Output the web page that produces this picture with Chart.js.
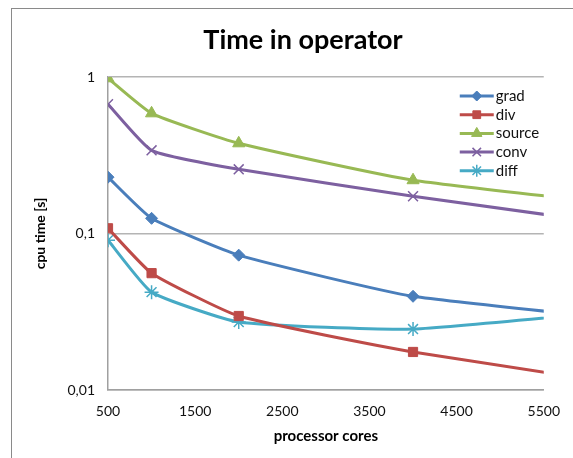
<!DOCTYPE html>
<html>
<head>
<meta charset="utf-8">
<script src="https://cdn.jsdelivr.net/npm/chart.js@4.4.0/dist/chart.umd.min.js"></script>
<style>
  html, body { margin: 0; padding: 0; background: #fff; }
  #wrap { position: relative; width: 573px; height: 458px; }
  #frame { position: absolute; left: 11px; top: 8px; width: 600px; height: 500px;
           border-left: 1.5px solid #8a8a8a; border-top: 1.5px solid #8a8a8a; pointer-events: none; }
</style>
</head>
<body>
<div id="wrap">
  <canvas id="chart" width="573" height="458"></canvas>
  <div id="frame"></div>
</div>
<script>
// values (last point lies past the axis end and is clipped)
var cores = [500, 1000, 2000, 4000, 8000];
var grad = [0.229, 0.125, 0.0727, 0.0397, 0.0230];
var div = [0.108, 0.0558, 0.0297, 0.0175, 0.0080];
var source = [0.981, 0.586, 0.377, 0.219, 0.122];
var conv = [0.670, 0.340, 0.257, 0.173, 0.0853];
var diff = [0.0906, 0.0422, 0.0272, 0.0245, 0.0393];
var yTicks = [0.01, 0.1, 1];

var names = ['grad', 'div', 'source', 'conv', 'diff'];
var colors = ['#4a7ebb', '#be4b48', '#98b954', '#7d60a0', '#46aac5'];
var markers = ['rectRot', 'rect', 'triangle', 'crossRot', 'star'];
var sizes = [6, 6.5, 7, 7, 7];
var series = [grad, div, source, conv, diff];

var FONT = 'Lato, "Open Sans", sans-serif';

function toPoints(vals) {
    return vals.map(function (v, i) { return { x: cores[i], y: v }; });
}

var datasets = series.map(function (vals, i) {
    var thin = markers[i] == 'crossRot' || markers[i] == 'star';
    return {
        label: names[i],
        data: toPoints(vals),
        borderColor: colors[i],
        backgroundColor: colors[i],
        borderWidth: 3,
        pointStyle: markers[i],
        pointRadius: sizes[i],
        pointBorderWidth: thin ? 1.5 : 1,
        pointBorderColor: colors[i],
        pointBackgroundColor: colors[i],
        tension: 0.15,
        fill: false
    };
});

// title sits off-centre in the original, so it is drawn here
var chartTitle = {
    id: 'chartTitle',
    afterDraw: function (chart) {
        var ctx = chart.ctx;
        ctx.save();
        ctx.fillStyle = '#000';
        ctx.font = 'bold 27px ' + FONT;
        ctx.textAlign = 'center';
        ctx.textBaseline = 'middle';
        ctx.fillText('Time in operator', 303, 40);
        ctx.restore();
    }
};

// legend drawn inside the plot, Excel style: line with the marker in the middle
var insideLegend = {
    id: 'insideLegend',
    afterDraw: function (chart) {
        var ctx = chart.ctx;
        var area = chart.chartArea;
        var x0 = area.right - 84, x1 = area.right - 50;
        ctx.save();
        chart.data.datasets.forEach(function (ds, i) {
            var y = area.top + 19 + i * 18.7;
            ctx.strokeStyle = ds.borderColor;
            ctx.lineWidth = 3;
            ctx.beginPath();
            ctx.moveTo(x0, y);
            ctx.lineTo(x1, y);
            ctx.stroke();
            ctx.fillStyle = ds.backgroundColor;
            ctx.lineWidth = ds.pointBorderWidth;
            Chart.helpers.drawPoint(ctx, {
                pointStyle: ds.pointStyle,
                radius: ds.pointRadius - 1,
                borderWidth: ds.pointBorderWidth,
                rotation: 0
            }, (x0 + x1) / 2, y);
            ctx.fillStyle = '#111';
            ctx.font = '15px ' + FONT;
            ctx.textAlign = 'left';
            ctx.textBaseline = 'middle';
            ctx.fillText(ds.label, x1 + 2, y);
        });
        ctx.restore();
    }
};

new Chart(document.getElementById('chart'), {
    type: 'line',
    data: { datasets: datasets },
    plugins: [chartTitle, insideLegend],
    options: {
        responsive: false,
        animation: false,
        layout: { padding: { left: 12, top: 77, right: 28, bottom: 0 } },
        plugins: {
            legend: { display: false },
            tooltip: { enabled: false },
            title: { display: false }
        },
        scales: {
            x: {
                type: 'linear',
                min: 500,
                max: 5500,
                ticks: {
                    stepSize: 1000,
                    color: '#111',
                    padding: 13,
                    font: { family: FONT, size: 14 },
                    callback: function (v) { return String(v); }
                },
                grid: { display: false, drawTicks: false },
                border: { display: true, color: '#a0a0a0', width: 1.5 },
                title: {
                    display: true,
                    text: 'processor cores',
                    color: '#000',
                    font: { family: FONT, size: 15, weight: 'bold' },
                    padding: { top: 4, bottom: 13 }
                },
                afterFit: function (scale) { scale.height = 68; }
            },
            y: {
                type: 'logarithmic',
                min: 0.01,
                max: 1,
                afterBuildTicks: function (scale) {
                    scale.ticks = yTicks.map(function (v) { return { value: v }; });
                },
                ticks: {
                    color: '#111',
                    padding: 13,
                    font: { family: FONT, size: 14 },
                    callback: function (v) { return String(v).replace('.', ','); }
                },
                grid: { color: '#b4b4b4', lineWidth: 1.5, drawTicks: false },
                border: { display: true, color: '#a0a0a0', width: 1.5 },
                title: {
                    display: true,
                    text: 'cpu time [s]',
                    color: '#000',
                    font: { family: FONT, size: 14, weight: 'bold' },
                    padding: { top: 20, bottom: 0 }
                },
                afterFit: function (scale) { scale.width = 96; }
            }
        }
    }
});
</script>
</body>
</html>
